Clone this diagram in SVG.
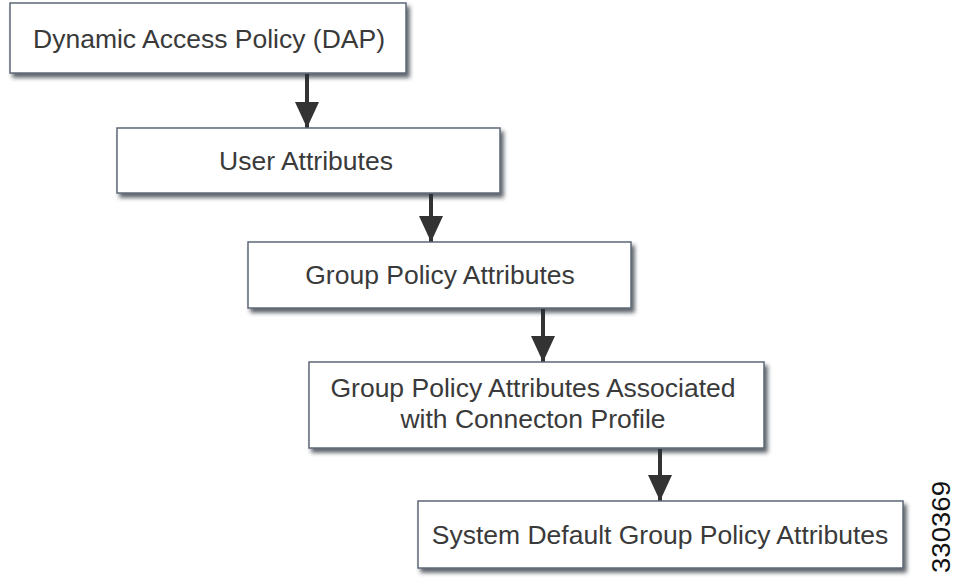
<svg xmlns="http://www.w3.org/2000/svg" width="957" height="579" viewBox="0 0 957 579">
  <defs>
    <filter id="shadow" x="-5%" y="-10%" width="115%" height="135%">
      <feDropShadow dx="3" dy="4" stdDeviation="2" flood-color="#2a2f38" flood-opacity="0.75"/>
    </filter>
    <marker id="arrow" markerUnits="userSpaceOnUse" markerWidth="26" markerHeight="24" refX="26" refY="12" orient="auto">
      <path d="M0,0 L26,12 L0,24 Z" fill="#333"/>
    </marker>
  </defs>
  <style>
    .box { fill: #ffffff; stroke: #5d6877; stroke-width: 1.5; filter: url(#shadow); }
    .lbl { font-family: "Liberation Sans", Arial, sans-serif; font-size: 26.5px; fill: #3a3a3a; text-anchor: middle; }
    .conn { stroke: #333; stroke-width: 4; fill: none; marker-end: url(#arrow); }
    .fig { font-family: "Liberation Sans", Arial, sans-serif; font-size: 26px; fill: #111; text-anchor: middle; }
  </style>
  <rect width="957" height="579" fill="#ffffff"/>

  <g id="connectors">
    <line class="conn" x1="307" y1="74" x2="307" y2="128"/>
    <line class="conn" x1="431" y1="194" x2="431" y2="242"/>
    <line class="conn" x1="543" y1="309" x2="543" y2="362"/>
    <line class="conn" x1="660" y1="449" x2="660" y2="501"/>
  </g>

  <g id="dap">
    <rect class="box" x="10" y="3" width="396" height="70"/>
    <text class="lbl" x="209" y="48">Dynamic Access Policy (DAP)</text>
  </g>

  <g id="user-attributes">
    <rect class="box" x="117" y="128" width="383" height="65"/>
    <text class="lbl" x="306" y="170">User Attributes</text>
  </g>

  <g id="group-policy-attributes">
    <rect class="box" x="248" y="242" width="383" height="66"/>
    <text class="lbl" x="440" y="284">Group Policy Attributes</text>
  </g>

  <g id="group-policy-connection-profile">
    <rect class="box" x="309" y="362" width="455" height="86"/>
    <text class="lbl" x="533" y="397">Group Policy Attributes Associated</text>
    <text class="lbl" x="533" y="428">with Connecton Profile</text>
  </g>

  <g id="system-default">
    <rect class="box" x="418" y="501" width="485" height="67"/>
    <text class="lbl" x="660" y="544">System Default Group Policy Attributes</text>
  </g>

  <text class="fig" transform="translate(950,527) rotate(-90)" textLength="92" lengthAdjust="spacingAndGlyphs">330369</text>
</svg>
